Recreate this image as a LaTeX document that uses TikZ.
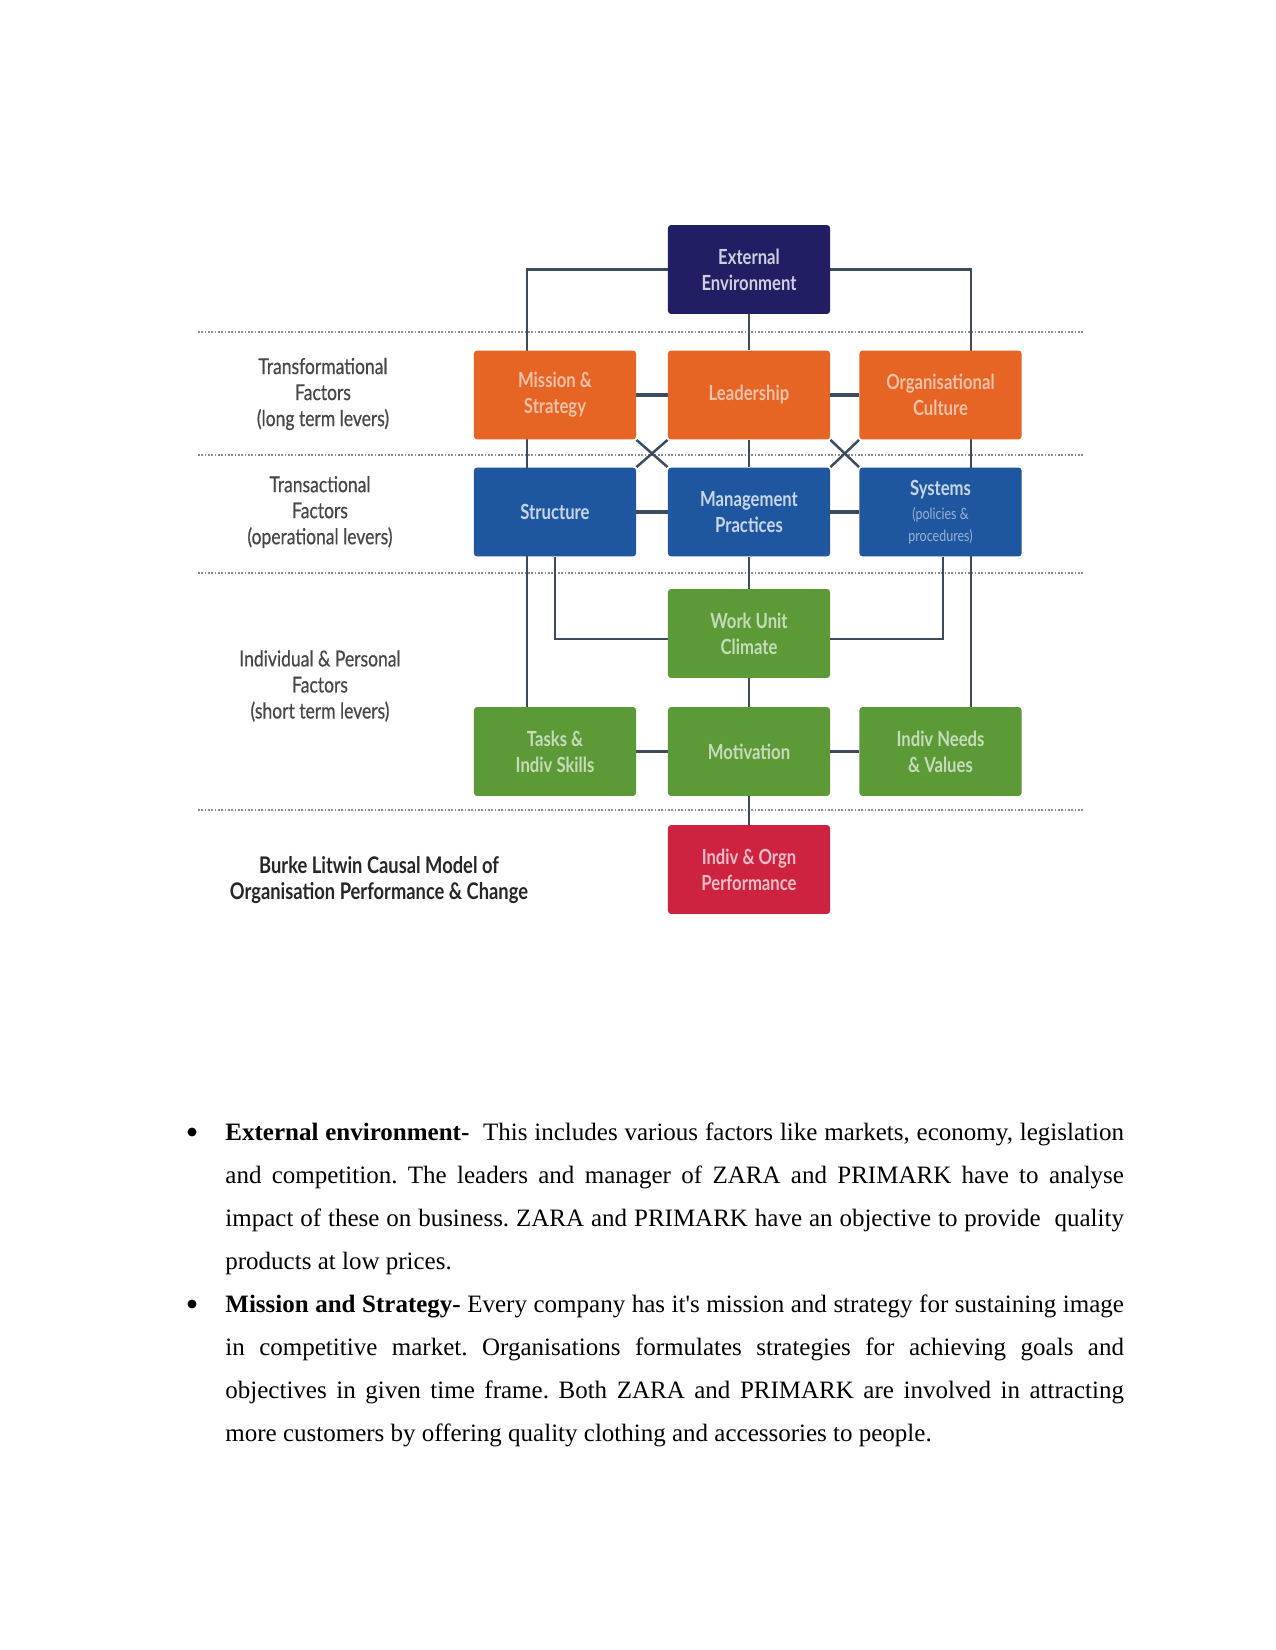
\documentclass[tikz,border=0pt]{standalone}
\usepackage{fontspec}
\setmainfont{Liberation Serif}
\newfontfamily\diagfont[FakeStretch=0.8]{Lato}
\newfontfamily\sidefont[FakeStretch=0.8,FakeBold=0.5]{Lato}
\usetikzlibrary{backgrounds}
\definecolor{navy}{RGB}{34,30,100}
\definecolor{orng}{RGB}{230,100,36}
\definecolor{blu}{RGB}{30,86,160}
\definecolor{grn}{RGB}{92,154,56}
\definecolor{rd}{RGB}{206,35,64}
\definecolor{conn}{RGB}{60,75,95}
\newcommand{\subtxt}[1]{{\fontsize{7.5}{9}\selectfont\mdseries\color{white!55!blu}#1}}
\tikzset{
  box/.style={rounded corners=1.5pt, minimum width=77.8pt, minimum height=42.7pt, inner sep=1pt, align=center,
    font=\diagfont\bfseries\fontsize{10}{12.5}\selectfont},
  navybox/.style={box, fill=navy, text=white!78!navy},
  orbox/.style={box, fill=orng, text=white!60!orng},
  blbox/.style={box, fill=blu, text=white!75!blu},
  grbox/.style={box, fill=grn, text=white!65!grn},
  rdbox/.style={box, fill=rd, text=white!70!rd},
  side/.style={align=center, text=black!72, font=\sidefont\fontsize{10.5}{12.5}\selectfont},
  link/.style={draw=conn, line width=1.2pt},
  hlink/.style={draw=conn, line width=1.6pt},
  sep/.style={draw=black!45, line width=0.7pt, dash pattern=on 0.8pt off 0.8pt},
  para/.style={anchor=base west, inner sep=0pt, text width=431.3pt, align=justify,
    font=\fontsize{12}{20.7}\selectfont},
  bul/.style={circle, fill=black, inner sep=0pt, minimum size=4.3pt}
}
\begin{document}
\frenchspacing
\begin{tikzpicture}[x=0.48pt,y=-0.48pt]
\useasboundingbox (0,0) rectangle (1275,1650);

% boxes
\node[navybox] (ext) at (749,269.5) {External\\Environment};
\node[orbox] (mis) at (555,395) {Mission \&\\Strategy};
\node[orbox] (lea) at (749,395) {Leadership};
\node[orbox] (org) at (940.5,395) {Organisational\\Culture};
\node[blbox] (str) at (555,512) {Structure};
\node[blbox] (mgt) at (749,512) {Management\\Practices};
\node[blbox] (sys) at (940.5,512) {Systems\\[-1pt]\subtxt{(policies \&}\\[-2pt]\subtxt{procedures)}};
\node[grbox] (wuc) at (749,633.5) {Work Unit\\Climate};
\node[grbox] (tas) at (555,751.5) {Tasks \&\\Indiv Skills};
\node[grbox] (mot) at (749,751.5) {Motivation};
\node[grbox] (ind) at (940.5,751.5) {Indiv Needs\\\& Values};
\node[rdbox] (per) at (749,869.5) {Indiv \& Orgn\\Performance};

% side labels
\node[side] (l1) at (323,394) {Transformational\\Factors\\(long term levers)};
\node[side] (l2) at (320,512) {Transactional\\Factors\\(operational levers)};
\node[side] (l3) at (320,686) {Individual \& Personal\\Factors\\(short term levers)};
\node[side, font=\diagfont\bfseries\fontsize{11}{12.5}\selectfont, text=black!85] (l4) at (379,880) {Burke Litwin Causal Model of\\Organisation Performance \& Change};

\begin{pgfonlayer}{background}
  \fill[white] (0,0) rectangle (1275,1650);
  % separators
  \foreach \yy in {332,455,573,810} \draw[sep] (198,\yy) -- (1084,\yy);
  % outer loops
  \draw[link] (ext.west) -| ([xshift=-13.4pt]tas.north);
  \draw[link] (ext.east) -| ([xshift=14.6pt]ind.north);
  % central spine
  \draw[link] (ext) -- (lea);
  \draw[link] (lea) -- (mgt);
  \draw[link] (mgt) -- (wuc);
  \draw[link] (wuc) -- (mot);
  \draw[link] (mot) -- (per);
  % inner feeds to climate
  \draw[link] (str.south) |- ([yshift=-2.6pt]wuc.west);
  \draw[link] ([xshift=1.2pt]sys.south) |- ([yshift=-2.6pt]wuc.east);
  % horizontal links
  \draw[hlink] (mis) -- (lea);
  \draw[hlink] (lea) -- (org);
  \draw[hlink] (str) -- (mgt);
  \draw[hlink] (mgt) -- (sys);
  \draw[hlink] (tas) -- (mot);
  \draw[hlink] (mot) -- (ind);
  % crosses
  \draw[link] (mis.south east) -- (mgt.north west);
  \draw[link] (lea.south west) -- (str.north east);
  \draw[link] (lea.south east) -- (sys.north west);
  \draw[link] (org.south west) -- (mgt.north east);
\end{pgfonlayer}

% body text
\node[bul] (b1) at (192,1132) {};
\node[para] (p1) at (225,1140) {\textbf{External environment-}\ \ This includes various factors like markets, economy, legislation\linebreak
and competition. The leaders and manager of ZARA and PRIMARK have to analyse\linebreak
impact of these on business. ZARA and PRIMARK have an objective to provide\ \ quality\linebreak
products at low prices.};
\node[bul] (b2) at (192,1304) {};
\node[para] (p2) at (225,1312) {\textbf{Mission and Strategy-} Every company has it\textquotesingle s mission and strategy for sustaining image\linebreak
in competitive market. Organisations formulates strategies for achieving goals and\linebreak
objectives in given time frame. Both ZARA and PRIMARK are involved in attracting\linebreak
more customers by offering quality clothing and accessories to people.};
\end{tikzpicture}
\end{document}
